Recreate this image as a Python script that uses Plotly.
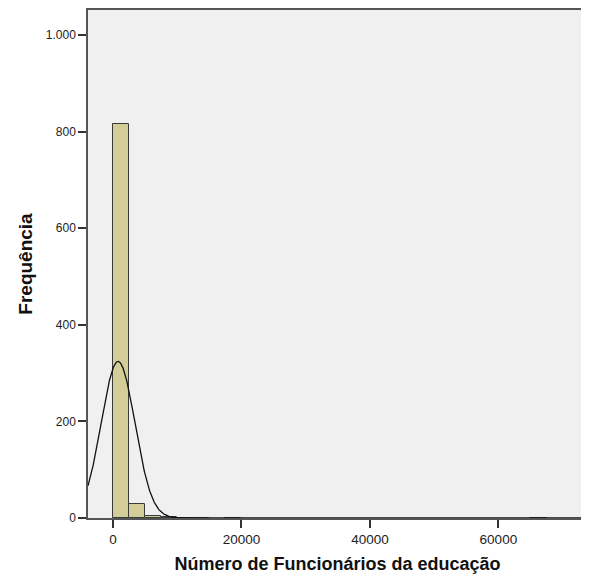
import numpy as np
import plotly.graph_objects as go

# Histogram data (bin start, counts), bin width
bin_starts = [0, 2500, 5000, 7500, 10000, 12500, 17500, 65000]
counts = [815, 29, 5, 2, 1, 1, 1, 1]
bin_width = 2500

# Normal curve parameters
mean_val = 780
sd_val = 2630

y_tickvals = [0, 200, 400, 600, 800, 1000]
y_ticktext = ["0", "200", "400", "600", "800", "1.000"]
x_tickvals = [0, 20000, 40000, 60000]
x_ticktext = ["0", "20000", "40000", "60000"]

n_total = sum(counts)
centers = [s + bin_width / 2 for s in bin_starts]

x_range = [-3900, 73800]
xs = np.linspace(x_range[0], x_range[1], 1500)
ys = n_total * bin_width / (sd_val * np.sqrt(2 * np.pi)) * np.exp(-0.5 * ((xs - mean_val) / sd_val) ** 2)

fig = go.Figure()
fig.add_trace(go.Bar(
    x=centers, y=counts, width=[bin_width] * len(counts),
    marker=dict(color="#D3CE98", line=dict(color="#3a3a3a", width=1)),
    hoverinfo="x+y",
))
fig.add_trace(go.Scatter(
    x=xs, y=ys, mode="lines", line=dict(color="#111111", width=1.3),
    hoverinfo="skip",
))

font_family = "Liberation Sans, Arial, sans-serif"
fig.update_layout(
    width=581, height=566,
    margin=dict(l=80, r=2, t=0, b=53),
    paper_bgcolor="white",
    plot_bgcolor="#F0F0F0",
    showlegend=False,
    bargap=0,
    font=dict(family=font_family, size=12, color="#222222"),
)
fig.update_xaxes(
    range=x_range,
    tickvals=x_tickvals, ticktext=x_ticktext,
    ticks="outside", ticklen=8, tickwidth=2, tickcolor="#333333",
    showline=True, linecolor="#555555", linewidth=1.5, mirror=True,
    showgrid=False, zeroline=False,
    tickfont=dict(size=13.5, color="#222222"),
    title=dict(text="<b>Número de Funcionários da educação</b>", font=dict(size=18, color="#111111"), standoff=14),
)
fig.update_yaxes(
    range=[0, 1052],
    tickvals=y_tickvals, ticktext=y_ticktext,
    ticks="outside", ticklen=8, tickwidth=2, tickcolor="#333333",
    showline=True, linecolor="#555555", linewidth=1.5, mirror=True,
    showgrid=False, zeroline=False,
    tickfont=dict(size=12, color="#222222"),
    title=dict(text="<b>Frequência</b>", font=dict(size=19, color="#111111"), standoff=8),
)

fig.write_html("out.html")
